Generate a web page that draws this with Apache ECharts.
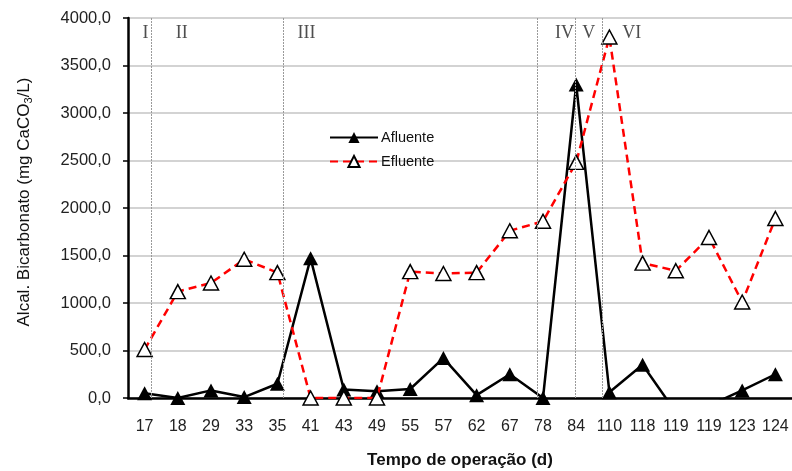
<!DOCTYPE html>
<html>
<head>
<meta charset="utf-8">
<script src="https://cdn.jsdelivr.net/npm/echarts@6/dist/echarts.min.js"></script>
<style>
  html, body { margin: 0; padding: 0; background: #fff; }
  #chart { width: 792px; height: 471px; }
</style>
</head>
<body>
<div id="chart"></div>
<script>
// tempo de operação (d)
const days = ["17", "18", "29", "33", "35", "41", "43", "49", "55", "57", "62", "67", "78", "84", "110", "118", "119", "119", "123", "124"];
// alcalinidade bicarbonato (mg CaCO3/L)
const afluente = [50, 0, 80, 10, 150, 1470, 90, 70, 95, 420, 30, 250, 0, 3300, 60, 350, -150, -80, 80, 250];
const efluente = [510, 1120, 1210, 1460, 1320, 0, 0, 0, 1330, 1310, 1320, 1760, 1860, 2480, 3800, 1420, 1340, 1690, 1010, 1890];
// fases (posição em índice de categoria)
const phaseLines = [0.21, 4.19, 11.84, 12.98, 13.77];
const phaseNames = ["I", "II", "III", "IV", "V", "VI"];
const phasePos = [0.03, 1.12, 4.88, 12.65, 13.38, 14.67];

const chart = echarts.init(document.getElementById("chart"));

const option = {
  animation: false,
  textStyle: { fontFamily: "Liberation Sans" },
  grid: { left: 128, right: 0, top: 18, bottom: 73, outerBoundsMode: "none" },
  legend: {
    orient: "vertical",
    left: 329,
    top: 130,
    padding: 0,
    itemWidth: 48,
    itemHeight: 14,
    itemGap: 9,
    textStyle: { fontSize: 14.5, color: "#111", padding: [0, 0, 0, -2] },
    data: ["Afluente", "Efluente"],
  },
  xAxis: [
    {
      type: "category",
      data: days,
      name: "Tempo de operação (d)",
      nameLocation: "middle",
      nameGap: 54,
      nameTextStyle: { fontSize: 17, fontWeight: "bold", color: "#111" },
      axisLine: { lineStyle: { color: "#000", width: 2.5 } },
      axisTick: { inside: true, length: 5, lineStyle: { color: "#000", width: 1 } },
      axisLabel: { interval: 0, fontSize: 16, color: "#222", margin: 21 },
    },
    {
      type: "value",
      min: -0.5,
      max: 19.5,
      show: false,
    },
  ],
  yAxis: {
    type: "value",
    min: 0,
    max: 4000,
    interval: 500,
    name: "Alcal. Bicarbonato (mg CaCO{sub|3}/L)",
    nameLocation: "middle",
    nameGap: 94,
    nameTextStyle: {
      fontSize: 17,
      color: "#111",
      padding: [0, 0, 0, 12],
      rich: { sub: { fontSize: 11, verticalAlign: "bottom", padding: [8, 0, 0, 0] } },
    },
    axisLine: { show: true, onZero: false, lineStyle: { color: "#000", width: 2.5 } },
    axisTick: { show: true, length: 5, lineStyle: { color: "#000", width: 1.5 } },
    axisLabel: {
      fontSize: 16.5,
      color: "#222",
      margin: 17,
      formatter: (v) => v.toFixed(1).replace(".", ","),
    },
    splitLine: { lineStyle: { color: "#c4c4c4", width: 1.5 } },
  },
  series: [
    {
      name: "Afluente",
      type: "line",
      data: afluente,
      symbol: "triangle",
      symbolSize: [15, 14],
      itemStyle: { color: "#000" },
      lineStyle: { color: "#000", width: 2.5 },
      z: 3,
    },
    {
      name: "Efluente",
      type: "line",
      data: efluente,
      symbol: "triangle",
      symbolSize: [15, 14],
      itemStyle: { color: "#fff", borderColor: "#000", borderWidth: 1.5 },
      lineStyle: { color: "#ff0000", width: 2.5, type: [8, 5] },
      z: 4,
    },
    {
      name: "fases",
      type: "scatter",
      xAxisIndex: 1,
      data: phasePos.map((p, i) => ({ value: [p, 3840], label: { formatter: phaseNames[i] } })),
      symbolSize: 0,
      silent: true,
      label: {
        show: true,
        position: "inside",
        fontFamily: "Liberation Serif",
        fontSize: 18,
        color: "#222",
      },
      markLine: {
        silent: true,
        symbol: "none",
        label: { show: false },
        lineStyle: { color: "#9a9a9a", width: 1, type: [2, 1] },
        data: phaseLines.map((p) => ({ xAxis: p })),
      },
      z: 1,
    },
  ],
};

chart.setOption(option);
</script>
</body>
</html>
